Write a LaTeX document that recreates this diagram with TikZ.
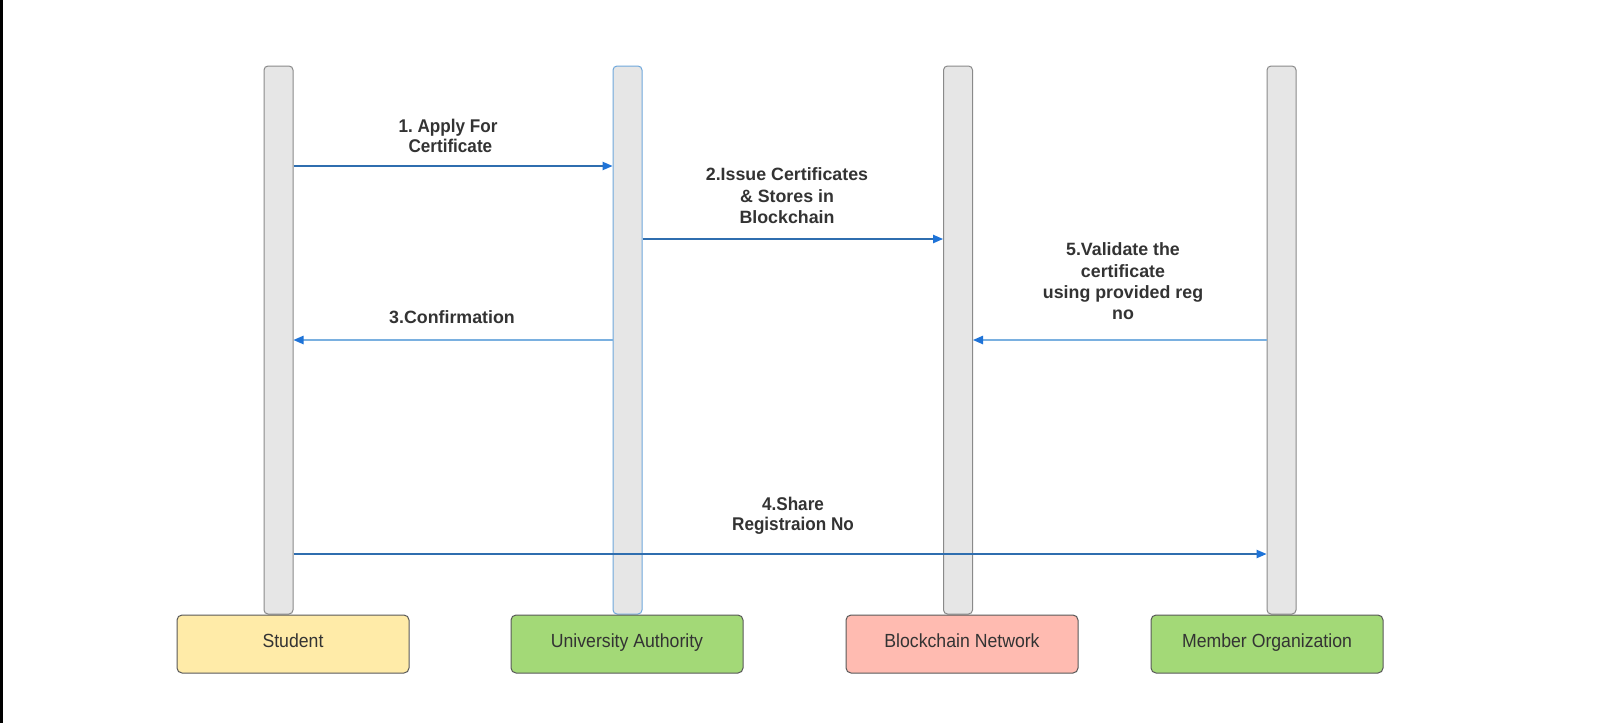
\documentclass[tikz,border=0pt]{standalone}
\usepackage{fontspec}
\setmainfont{Liberation Sans}
\newfontfamily\narrowfont[FakeStretch=0.93]{Liberation Sans}
\usetikzlibrary{arrows.meta}
\definecolor{lifefill}{HTML}{E6E6E6}
\definecolor{lifedraw}{HTML}{8A8A8A}
\definecolor{lifeblue}{HTML}{6FA8DC}
\definecolor{msgdark}{HTML}{2F6EAF}
\definecolor{msglight}{HTML}{7AB0E0}
\definecolor{tipblue}{HTML}{1E73D8}
\definecolor{txt}{HTML}{333333}
\definecolor{stufill}{HTML}{FFEBA8}
\definecolor{greenfill}{HTML}{A3D977}
\definecolor{pinkfill}{HTML}{FFBBB1}
\begin{document}
\frenchspacing
\begin{tikzpicture}[x=0.5pt,y=-0.5pt,
  life/.style={draw=lifedraw, fill=lifefill, rounded corners=2pt, minimum width=14.5pt, minimum height=274pt, inner sep=0pt, line width=0.5pt},
  actor/.style={draw=black!65, rounded corners=2.5pt, minimum width=116pt, minimum height=29pt, inner sep=0pt, line width=0.5pt, text height=6.8pt, text depth=3.2pt, font=\narrowfont\fontsize{9.5}{11.5}\selectfont, text=txt},
  msg/.style={draw=msgdark, line width=0.6pt, -{Triangle[length=5pt,width=4.2pt,color=tipblue]}},
  msgl/.style={msg, draw=msglight},
  lbl/.style={font=\frenchspacing\bfseries\fontsize{8.9}{10.7}\selectfont, text=txt, align=center, inner sep=0pt},
  lbln/.style={lbl, font=\frenchspacing\narrowfont\bfseries\fontsize{9.2}{10.2}\selectfont}
]
\useasboundingbox (0,0) rectangle (1598,723);
\fill[white] (0,0) rectangle (1598,723);
\fill[black] (0,0) rectangle (3,723);

% lifelines
\node[life] (ls) at (278.5,340) {};
\node[life, draw=lifeblue] (lu) at (627.5,340) {};
\node[life] (lb) at (958,340) {};
\node[life] (lm) at (1281.5,340) {};

% actors
\node[actor, fill=stufill] (stu) at (293,644) {Student};
\node[actor, fill=greenfill] (uni) at (627,644) {University Authority};
\node[actor, fill=pinkfill] (blk) at (962,644) {Blockchain Network};
\node[actor, fill=greenfill] (mem) at (1267,644) {Member Organization};

% messages
\draw[msg] (ls.east |- 0,166) -- (lu.west |- 0,166);
\node[lbln] (t1) at (448,136) {1. Apply For\\ \ Certificate};

\draw[msg] (lu.east |- 0,239) -- (lb.west |- 0,239);
\node[lbl] (t2) at (787,196) {2.Issue Certificates\\\& Stores in\\Blockchain};

\draw[msgl] (lu.west |- 0,340) -- (ls.east |- 0,340);
\node[lbl] (t3) at (452,317) {3.Confirmation};

\draw[msgl] (lm.west |- 0,340) -- (lb.east |- 0,340);
\node[lbl] (t5) at (1123,281.5) {5.Validate the\\certificate\\using provided reg\\no};

\draw[msg] (ls.east |- 0,554) -- (lm.west |- 0,554);
\node[lbln] (t4) at (793,515.5) {4.Share\\Registraion No};
\end{tikzpicture}
\end{document}
